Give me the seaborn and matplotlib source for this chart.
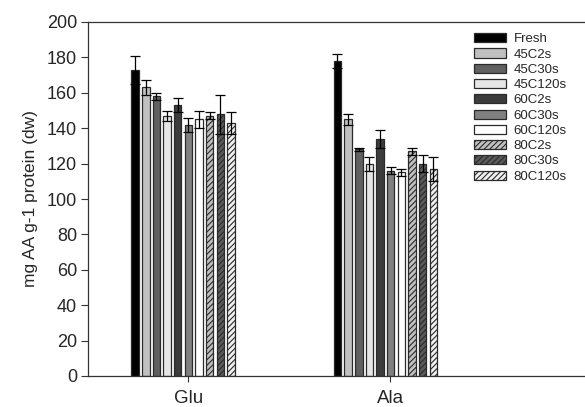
import pandas as pd
import numpy as np
import matplotlib
matplotlib.use("Agg")
import matplotlib.pyplot as plt
import seaborn as sns
from matplotlib.patches import Patch

amino_acids = ["Glu", "Ala"]
treatments = ["Fresh", "45C2s", "45C30s", "45C120s", "60C2s",
              "60C30s", "60C120s", "80C2s", "80C30s", "80C120s"]
glu_mean = [173, 163, 158, 147, 153, 142, 145, 147, 148, 143]
glu_err = [8, 4, 2, 3, 4, 4, 5, 2, 11, 6]
ala_mean = [178, 145, 128, 120, 134, 116, 115, 127, 120, 117]
ala_err = [4, 3, 1, 4, 5, 2, 2, 2, 5, 7]

fills = ["#000000", "#c0c0c0", "#606060", "#e6e6e6", "#3c3c3c",
         "#808080", "#ffffff", "#c0c0c0", "#5a5a5a", "#f0f0f0"]
hatches = [None] * 7 + ["//////"] * 3

df = pd.DataFrame({
    "aa": amino_acids[0:1] * 10 + amino_acids[1:2] * 10,
    "treatment": treatments * 2,
    "value": glu_mean + ala_mean,
    "err": glu_err + ala_err,
})

sns.set_theme(style="white")
plt.rcParams["font.family"] = ["Liberation Sans", "DejaVu Sans"]
plt.rcParams["hatch.linewidth"] = 0.8

fig = plt.figure(figsize=(5.85, 4.07), dpi=100)
ax = fig.add_axes([88 / 585, 31 / 407, 520 / 585, 354 / 407])

sns.barplot(data=df, x="aa", y="value", hue="treatment", order=amino_acids,
            hue_order=treatments, palette=fills, width=0.527, gap=0.3,
            errorbar=None, edgecolor="#2a2a2a", linewidth=0.9,
            legend=False, ax=ax)

# patches come out grouped by hue, then by category
for i, t in enumerate(treatments):
    for j, a in enumerate(amino_acids):
        p = ax.patches[i * len(amino_acids) + j]
        if hatches[i]:
            p.set_hatch(hatches[i])
        row = df[(df.aa == a) & (df.treatment == t)].iloc[0]
        cx = p.get_x() + p.get_width() / 2
        ax.errorbar(cx, row.value, yerr=row.err, color="black",
                    elinewidth=0.9, capsize=3.5, capthick=0.9, zorder=5)

ax.set_ylim(0, 200)
ax.set_xlim(-0.47, 2.1)
ax.set_yticks(range(0, 201, 20))
ax.set_xticks([0.025, 1.025])
ax.set_xticklabels(amino_acids)
ax.set_xlabel("")
ax.set_ylabel("mg AA g-1 protein (dw)", fontsize=12.5, labelpad=6)
ax.tick_params(axis="both", which="major", labelsize=13, length=5,
               width=0.8, color="#333333", bottom=True, left=True,
               direction="out", pad=3)
ax.tick_params(axis="x", length=4, pad=6, labelsize=13.5)
for s in ax.spines.values():
    s.set_color("#333333")
    s.set_linewidth(0.9)

handles = [Patch(facecolor=fills[i], edgecolor="#2a2a2a", linewidth=0.9,
                 hatch=hatches[i], label=treatments[i])
           for i in range(len(treatments))]
fig.legend(handles=handles, loc="upper left",
           bbox_to_anchor=(465 / 585, 1 - 24 / 407), frameon=False,
           fontsize=9.5, handlelength=2.4, handleheight=0.68,
           labelspacing=0.235, handletextpad=0.6, borderpad=0.2)

fig.savefig("out.png", dpi=100)
